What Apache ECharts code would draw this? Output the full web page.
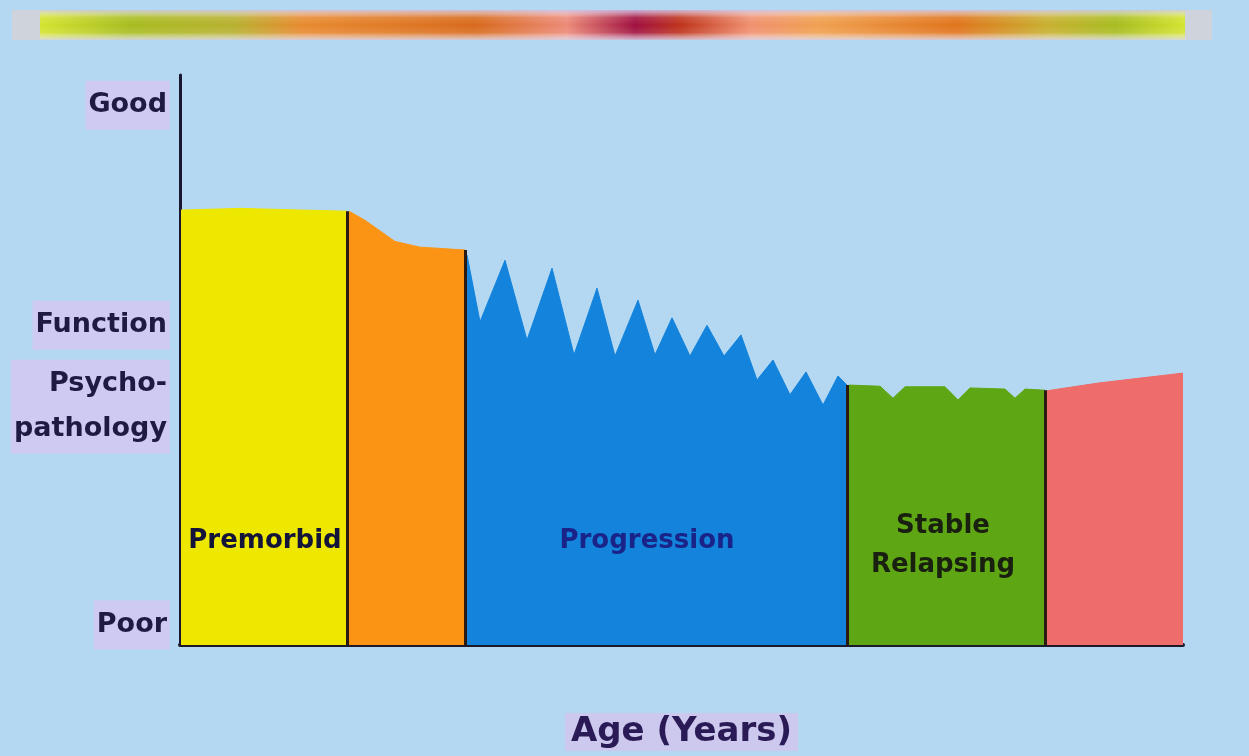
<!DOCTYPE html>
<html>
<head>
<meta charset="utf-8">
<script src="https://cdn.jsdelivr.net/npm/echarts@6/dist/echarts.min.js"></script>
<style>
  html, body { margin: 0; padding: 0; background: #b4d8f2; }
  #chart { width: 1249px; height: 756px; }
</style>
</head>
<body>
<div id="chart"></div>
<script>
// ---- data (x = relative age units, y = functioning level 0=poor..100=good) ----
const yTickValues = [3.5, 41.8, 56.1, 94.7];
const yTickLabels = ['Poor', 'Psycho-\npathology', 'Function', 'Good'];

const premorbid = [[1, 76.3], [60, 76.6], [167, 76.1]];
const prodromal = [[169, 76.1], [185, 74.5], [215, 70.8], [240, 69.8], [285, 69.3]];
const progression = [
  [287, 68.4], [300, 56.7], [325, 67.5], [347, 53.5], [372, 66.1], [394, 50.9],
  [417, 62.6], [435, 50.7], [458, 60.5], [475, 50.9], [492, 57.4], [510, 50.7],
  [527, 56.1], [544, 50.7], [561, 54.4], [577, 46.5], [593, 50.0], [610, 43.9],
  [626, 47.9], [643, 42.1], [658, 47.2], [667, 45.6]
];
const stable = [
  [669, 45.6], [700, 45.4], [713, 43.3], [725, 45.3], [765, 45.3], [778, 43.0],
  [790, 45.1], [825, 44.9], [835, 43.3], [845, 44.9], [865, 44.7]
];
const lateStage = [[867, 44.6], [920, 46.0], [1003, 47.7]];

const phaseLabels = [
  { text: 'Premorbid', x: 85, y: 18.2, color: '#14143a' },
  { text: 'Progression', x: 467, y: 18.2, color: '#1a2488' },
  { text: 'Stable\nRelapsing', x: 763, y: 17.4, color: '#1a2010' }
];

const xTitle = 'Age (Years)';

// ---- chart ----
const chart = echarts.init(document.getElementById('chart'));
const FONT = 'DejaVu Sans';

function phase(name, data, color, withSeparator, label) {
  const s = {
    name: name,
    type: 'line',
    data: data,
    showSymbol: false,
    symbol: 'none',
    silent: true,
    lineStyle: { color: color, width: 1 },
    areaStyle: { color: color, opacity: 1 },
    z: 2
  };
  if (withSeparator) {
    const last = data[data.length - 1];
    const sx = last[0];
    s.markLine = {
      silent: true,
      symbol: 'none',
      label: { show: false },
      lineStyle: { color: '#2a1a12', width: 3, type: 'solid' },
      data: [[{ coord: [sx, 0] }, { coord: [sx, last[1]] }]]
    };
  }
  if (label) {
    s.markPoint = {
      silent: true,
      symbol: 'circle',
      symbolSize: 0,
      data: [{
        coord: [label.x, label.y],
        label: {
          show: true,
          position: 'inside',
          formatter: label.text,
          color: label.color,
          fontFamily: FONT,
          fontWeight: 'bold',
          fontSize: 26,
          lineHeight: 39,
          align: 'center'
        }
      }]
    };
  }
  return s;
}

const option = {
  backgroundColor: '#b4d8f2',
  animation: false,
  grid: { left: 180, right: 66, top: 75, bottom: 111, containLabel: false, outerBoundsMode: 'none' },
  xAxis: {
    type: 'value',
    min: 0,
    max: 1003,
    name: xTitle,
    nameLocation: 'middle',
    nameGap: 68,
    nameTextStyle: {
      color: '#2a1a55',
      fontFamily: FONT,
      fontWeight: 'bold',
      fontSize: 34,
      backgroundColor: '#cdc8ee',
      padding: [2, 6]
    },
    axisLine: { show: true, lineStyle: { color: '#1a1a2a', width: 4 } },
    axisTick: { show: false },
    axisLabel: { show: false },
    splitLine: { show: false }
  },
  yAxis: {
    type: 'value',
    min: 0,
    max: 100,
    axisLine: { show: true, lineStyle: { color: '#1a1530', width: 3 } },
    axisTick: { show: false },
    splitLine: { show: false },
    axisLabel: {
      customValues: yTickValues,
      formatter: function (v) {
        const i = yTickValues.indexOf(v);
        return i >= 0 ? yTickLabels[i] : '';
      },
      margin: 10,
      color: '#1e1a44',
      fontFamily: FONT,
      fontWeight: 'bold',
      fontSize: 27,
      lineHeight: 45,
      backgroundColor: '#cfcaf2',
      padding: [2, 3]
    }
  },
  graphic: [
    {
      type: 'rect',
      shape: { x: 12, y: 10, width: 1200, height: 30 },
      style: { fill: '#cfd3dc' },
      silent: true
    },
    {
      type: 'rect',
      shape: { x: 40, y: 10, width: 1145, height: 30 },
      style: {
        fill: {
          type: 'linear', x: 0, y: 0, x2: 1, y2: 0,
          colorStops: [
            { offset: 0.0, color: '#d4e430' },
            { offset: 0.08, color: '#a8bc20' },
            { offset: 0.17, color: '#b8b030' },
            { offset: 0.23, color: '#e88a30' },
            { offset: 0.38, color: '#d86a1c' },
            { offset: 0.46, color: '#ec8a78' },
            { offset: 0.52, color: '#a01040' },
            { offset: 0.56, color: '#c0341c' },
            { offset: 0.62, color: '#f09070' },
            { offset: 0.68, color: '#f0a050' },
            { offset: 0.8, color: '#e0741c' },
            { offset: 0.88, color: '#c8b030' },
            { offset: 0.94, color: '#a8bc20' },
            { offset: 1.0, color: '#d4e430' }
          ]
        }
      },
      silent: true
    },
    {
      type: 'rect',
      shape: { x: 40, y: 10, width: 1145, height: 30 },
      style: {
        fill: {
          type: 'linear', x: 0, y: 0, x2: 0, y2: 1,
          colorStops: [
            { offset: 0.0, color: 'rgba(205,200,240,0.85)' },
            { offset: 0.25, color: 'rgba(255,255,255,0.12)' },
            { offset: 0.5, color: 'rgba(255,255,255,0)' },
            { offset: 0.75, color: 'rgba(255,255,255,0.1)' },
            { offset: 1.0, color: 'rgba(215,215,240,0.85)' }
          ]
        }
      },
      silent: true
    }
  ],
  series: [
    phase('Premorbid', premorbid, '#eee800', true, phaseLabels[0]),
    phase('Prodrome', prodromal, '#fb9414', true, null),
    phase('Progression', progression, '#1383dc', true, phaseLabels[1]),
    phase('Stable', stable, '#5ea614', true, phaseLabels[2]),
    phase('Late', lateStage, '#ee6c6a', false, null)
  ]
};

chart.setOption(option);
</script>
</body>
</html>
